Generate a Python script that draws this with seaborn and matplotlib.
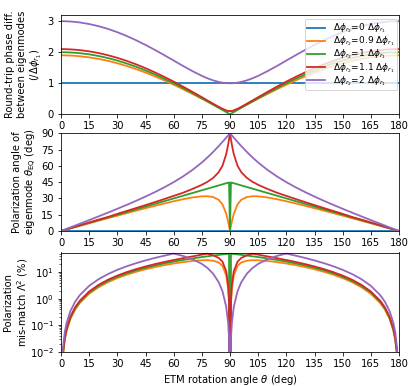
"""
Eigenmode phase difference, eigenmode polarization angle and polarization
mis-match versus ETM rotation angle, for several ratios dphi_r2 / dphi_r1.
"""

import pandas as pd
import seaborn as sns
import matplotlib.pyplot as plt

# === ETM rotation angle (deg) ===
THETA = [0, 1, 2, 3, 5, 7.5, 10, 15, 20, 25, 30, 35, 40, 45, 50, 55, 60, 65,
         70, 75, 78, 81, 84, 86, 88, 89, 89.5, 90, 90.5, 91, 92, 94, 96, 99,
         102, 105, 110, 115, 120, 125, 130, 135, 140, 145, 150, 155, 160, 165,
         170, 172.5, 175, 177, 178, 179, 180]

LABELS = [
    r"$\Delta\phi_{r_2}$=0 $\Delta\phi_{r_1}$",
    r"$\Delta\phi_{r_2}$=0.9 $\Delta\phi_{r_1}$",
    r"$\Delta\phi_{r_2}$=1 $\Delta\phi_{r_1}$",
    r"$\Delta\phi_{r_2}$=1.1 $\Delta\phi_{r_1}$",
    r"$\Delta\phi_{r_2}$=2 $\Delta\phi_{r_1}$",
]
COLORS = ["#1f77b4", "#ff7f0e", "#2ca02c", "#d62728", "#9467bd"]

# === Round-trip phase difference (/dphi_r1) ===
RT_0 = [1.0] * len(THETA)
RT_09 = [1.900, 1.900, 1.899, 1.897, 1.893, 1.884, 1.871, 1.835, 1.786, 1.723,
         1.646, 1.557, 1.457, 1.345, 1.224, 1.093, 0.954, 0.808, 0.657, 0.501,
         0.407, 0.313, 0.222, 0.166, 0.120, 0.105, 0.101, 0.100,
         0.101, 0.105, 0.120, 0.166, 0.222, 0.313, 0.407, 0.501, 0.657, 0.808,
         0.954, 1.093, 1.224, 1.345, 1.457, 1.557, 1.646, 1.723, 1.786, 1.835,
         1.871, 1.884, 1.893, 1.897, 1.899, 1.900, 1.900]
RT_1 = [2.000, 2.000, 1.999, 1.997, 1.992, 1.983, 1.970, 1.932, 1.879, 1.813,
        1.732, 1.638, 1.532, 1.414, 1.286, 1.147, 1.000, 0.845, 0.684, 0.518,
        0.416, 0.313, 0.209, 0.140, 0.070, 0.035, 0.017, 0.000,
        0.017, 0.035, 0.070, 0.140, 0.209, 0.313, 0.416, 0.518, 0.684, 0.845,
        1.000, 1.147, 1.286, 1.414, 1.532, 1.638, 1.732, 1.813, 1.879, 1.932,
        1.970, 1.983, 1.992, 1.997, 1.999, 2.000, 2.000]
RT_11 = [2.100, 2.100, 2.099, 2.097, 2.092, 2.082, 2.068, 2.029, 1.974, 1.904,
         1.819, 1.721, 1.610, 1.487, 1.352, 1.207, 1.054, 0.892, 0.724, 0.552,
         0.447, 0.343, 0.241, 0.177, 0.124, 0.106, 0.102, 0.100,
         0.102, 0.106, 0.124, 0.177, 0.241, 0.343, 0.447, 0.552, 0.724, 0.892,
         1.054, 1.207, 1.352, 1.487, 1.610, 1.721, 1.819, 1.904, 1.974, 2.029,
         2.068, 2.082, 2.092, 2.097, 2.099, 2.100, 2.100]
RT_2 = [3.000, 3.000, 2.998, 2.996, 2.990, 2.977, 2.960, 2.909, 2.840, 2.752,
        2.646, 2.524, 2.386, 2.236, 2.075, 1.906, 1.732, 1.558, 1.391, 1.239,
        1.160, 1.094, 1.043, 1.019, 1.005, 1.001, 1.000, 1.000,
        1.000, 1.001, 1.005, 1.019, 1.043, 1.094, 1.160, 1.239, 1.391, 1.558,
        1.732, 1.906, 2.075, 2.236, 2.386, 2.524, 2.646, 2.752, 2.840, 2.909,
        2.960, 2.977, 2.990, 2.996, 2.998, 3.000, 3.000]

# === Eigenmode polarization angle theta_EQ (deg) ===
ANG_0 = [0.0] * len(THETA)
ANG_09 = [0, 0.47, 0.95, 1.42, 2.37, 3.55, 4.73, 7.10, 9.45, 11.80, 14.13,
          16.44, 18.74, 20.99, 23.21, 25.35, 27.40, 29.28, 30.89, 31.95, 32.05,
          31.31, 28.70, 24.52, 15.78, 8.67, 4.46, 0,
          4.46, 8.67, 15.78, 24.52, 28.70, 31.31, 32.05, 31.95, 30.89, 29.28,
          27.40, 25.35, 23.21, 20.99, 18.74, 16.44, 14.13, 11.80, 9.45, 7.10,
          4.73, 3.55, 2.37, 1.42, 0.95, 0.47, 0]
ANG_1 = [0, 0.5, 1.0, 1.5, 2.5, 3.75, 5.0, 7.5, 10.0, 12.5, 15.0, 17.5, 20.0,
         22.5, 25.0, 27.5, 30.0, 32.5, 35.0, 37.5, 39.0, 40.5, 42.0, 43.0,
         44.0, 44.5, 44.75, 0,
         44.75, 44.5, 44.0, 43.0, 42.0, 40.5, 39.0, 37.5, 35.0, 32.5, 30.0,
         27.5, 25.0, 22.5, 20.0, 17.5, 15.0, 12.5, 10.0, 7.5, 5.0, 3.75, 2.5,
         1.5, 1.0, 0.5, 0]
ANG_11 = [0, 0.52, 1.05, 1.57, 2.62, 3.93, 5.24, 7.87, 10.50, 12.92, 15.79,
          18.46, 21.14, 23.86, 26.62, 29.45, 32.36, 35.25, 38.73, 42.54, 45.31,
          48.87, 54.19, 60.13, 70.87, 79.44, 84.56, 90,
          84.56, 79.44, 70.87, 60.13, 54.19, 48.87, 45.31, 42.54, 38.73, 35.25,
          32.36, 29.45, 26.62, 23.86, 21.14, 18.46, 15.79, 12.92, 10.50, 7.87,
          5.24, 3.93, 2.62, 1.57, 1.05, 0.52, 0]
ANG_2 = [0, 0.67, 1.33, 2.00, 3.34, 5.01, 6.68, 10.05, 13.46, 16.92, 20.45,
         24.07, 27.81, 31.72, 35.83, 40.23, 45.00, 50.28, 56.24, 63.10, 67.74,
         72.79, 78.25, 82.08, 86.01, 88.00, 89.00, 90,
         89.00, 88.00, 86.01, 82.08, 78.25, 72.79, 67.74, 63.10, 56.24, 50.28,
         45.00, 40.23, 35.83, 31.72, 27.81, 24.07, 20.45, 16.92, 13.46, 10.05,
         6.68, 5.01, 3.34, 2.00, 1.33, 0.67, 0]

# === Polarization mis-match Lambda^2 (%) ===
MM_0 = [0.0] * len(THETA)
MM_09 = [0, 0.0068, 0.0273, 0.0615, 0.171, 0.384, 0.681, 1.526, 2.696, 4.180,
         5.960, 8.014, 10.32, 12.84, 15.53, 18.33, 21.17, 23.92, 26.35, 27.99,
         28.15, 27.00, 23.06, 17.22, 7.40, 2.275, 0.604, 0,
         0.604, 2.275, 7.40, 17.22, 23.06, 27.00, 28.15, 27.99, 26.35, 23.92,
         21.17, 18.33, 15.53, 12.84, 10.32, 8.014, 5.960, 4.180, 2.696, 1.526,
         0.681, 0.384, 0.171, 0.0615, 0.0273, 0.0068, 0]
MM_1 = [0, 0.0076, 0.0305, 0.0685, 0.190, 0.428, 0.760, 1.704, 3.015, 4.685,
        6.699, 9.042, 11.70, 14.64, 17.86, 21.32, 25.00, 28.87, 32.90, 37.06,
        39.60, 42.18, 44.77, 46.51, 48.26, 49.13, 49.56, 0,
        49.56, 49.13, 48.26, 46.51, 44.77, 42.18, 39.60, 37.06, 32.90, 28.87,
        25.00, 21.32, 17.86, 14.64, 11.70, 9.042, 6.699, 4.685, 3.015, 1.704,
        0.760, 0.428, 0.190, 0.0685, 0.0305, 0.0076, 0]
MM_11 = [0, 0.0084, 0.0334, 0.0752, 0.209, 0.470, 0.834, 1.873, 3.319, 5.165,
         7.402, 10.02, 13.01, 16.37, 20.08, 24.17, 28.64, 33.58, 39.14, 45.71,
         49.45, 43.27, 34.24, 24.81, 10.74, 3.362, 0.900, 0,
         0.900, 3.362, 10.74, 24.81, 34.24, 43.27, 49.45, 45.71, 39.14, 33.58,
         28.64, 24.17, 20.08, 16.37, 13.01, 10.02, 7.402, 5.165, 3.319, 1.873,
         0.834, 0.470, 0.209, 0.0752, 0.0334, 0.0084, 0]
MM_2 = [0, 0.0135, 0.0542, 0.122, 0.338, 0.762, 1.354, 3.047, 5.417, 8.468,
        12.20, 16.63, 21.77, 27.64, 34.27, 41.71, 50.00, 40.84, 30.88, 20.47,
        14.35, 8.751, 4.147, 1.901, 0.485, 0.122, 0.0305, 0,
        0.0305, 0.122, 0.485, 1.901, 4.147, 8.751, 14.35, 20.47, 30.88, 40.84,
        50.00, 41.71, 34.27, 27.64, 21.77, 16.63, 12.20, 8.468, 5.417, 3.047,
        1.354, 0.762, 0.338, 0.122, 0.0542, 0.0135, 0]

XTICKS = list(range(0, 181, 15))
W, H = 415, 386  # tamanho da figura (px)


def long_frame(series):
    """Long-form table (theta, value, label) for seaborn."""
    parts = []
    for lab, vals in zip(LABELS, series):
        parts.append(pd.DataFrame({"theta": THETA, "value": vals, "label": lab}))
    return pd.concat(parts, ignore_index=True)


def draw(ax, series):
    sns.lineplot(data=long_frame(series), x="theta", y="value", hue="label",
                 hue_order=LABELS, palette=COLORS, ax=ax, legend=False,
                 estimator=None, linewidth=1.8)
    ax.set_xlim(0, 180)
    ax.set_xticks(XTICKS)
    ax.set_xlabel("")


def main():
    fig, axes = plt.subplots(3, 1, figsize=(W / 72, H / 72), dpi=72)
    ax1, ax2, ax3 = axes

    # posições medidas na figura de referência (px)
    for ax, (top, bot) in zip(axes, [(15, 114.3), (133.3, 231), (252.5, 351.7)]):
        ax.set_position([61 / W, 1 - bot / H, 338 / W, (bot - top) / H])

    draw(ax1, [RT_0, RT_09, RT_1, RT_11, RT_2])
    ax1.set_ylim(0, 3.2)
    ax1.set_yticks([0, 1, 2, 3])
    ax1.set_ylabel("Round-trip phase diff.\nbetween eigenmodes\n"
                   r"$(/\Delta\phi_{r_1})$")
    ax1.yaxis.set_label_coords((44 - 61) / 338, 0.5)
    ax1.legend(ax1.get_lines(), LABELS, loc="upper right", fontsize=9,
               bbox_to_anchor=(397 / W, 1 - 19 / H),
               bbox_transform=fig.transFigure, borderaxespad=0,
               handlelength=2.0, labelspacing=-0.05, borderpad=0.3,
               handletextpad=0.8)

    draw(ax2, [ANG_0, ANG_09, ANG_1, ANG_11, ANG_2])
    ax2.set_ylim(0, 90)
    ax2.set_yticks(range(0, 91, 15))
    ax2.set_ylabel("Polarization angle of\n"
                   r"eigenmode $\theta_{\rm EQ}$ (deg)")
    ax2.yaxis.set_label_coords((39 - 61) / 338, 0.5)

    draw(ax3, [MM_0, MM_09, MM_1, MM_11, MM_2])
    ax3.set_yscale("log")
    ax3.set_ylim(1e-2, 55)
    ax3.set_ylabel("Polarization\n" r"mis-match $\Lambda^2$ (%)")
    ax3.yaxis.set_label_coords((30 - 61) / 338, 0.5)
    ax3.set_xlabel(r"ETM rotation angle $\theta$ (deg)")

    fig.savefig("out.png", dpi=72)
    plt.close(fig)


if __name__ == "__main__":
    main()
